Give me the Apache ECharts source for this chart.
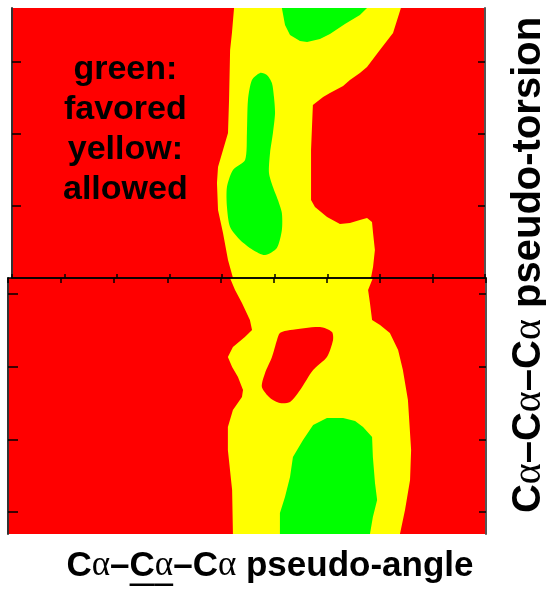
<!DOCTYPE html>
<html>
<head>
<meta charset="utf-8">
<script src="https://cdn.jsdelivr.net/npm/echarts@6/dist/echarts.min.js"></script>
<style>
  html, body { margin: 0; padding: 0; background: #fff; }
  #chart { width: 546px; height: 594px; }
</style>
</head>
<body>
<div id="chart"></div>
<script>
// region outlines, [pseudo-angle, pseudo-torsion] in degrees
// upper panel (torsion 0 .. 187)
var topAllowed = [
  [84.5,187],[83.7,169.7],[83.0,157.9],[82.6,123.3],[82.2,100.4],[80.3,88.7],[78.4,76.9],
  [78.0,65.8],[78.4,47.1],[80.3,31.2],[82.2,12.5],[84.1,0],
  [136.6,0],[137.4,7.6],[138.1,19.4],[137.4,31.2],[137.0,38.8],[135.1,41.6],[132.4,40.2],
  [128.6,38.1],[124.8,37.4],[119.9,42.2],[115.3,49.2],[113.8,54.0],[113.8,88.7],
  [114.5,119.8],[118.4,125.4],[121.0,128.1],[126.0,133.0],[128.6,137.1],[132.4,142.0],
  [135.1,146.1],[140.0,157.9],[145.0,169.7],[148.0,187]
];
var topFavoredA = [
  [102.7,187],[103.9,175.2],[105.8,168.3],[109.6,164.1],[112.3,163.5],[117.2,165.5],
  [121.0,169.0],[126.7,175.9],[132.4,182.2],[135.1,187]
];
var topFavoredB = [
  [94.4,142.0],[91.3,137.1],[89.8,123.3],[89.4,100.4],[88.7,81.7],[84.1,74.8],[81.8,63.0],
  [81.8,49.2],[83.0,35.3],[86.8,26.3],[91.7,19.4],[96.3,15.9],[100.8,20.8],[102.7,33.2],
  [102.7,45.0],[101.2,54.0],[99.3,63.0],[97.8,72.7],[98.2,86.6],[99.3,100.4],[100.1,114.3],
  [99.7,125.4],[98.9,135.1],[97.0,140.6]
];
// lower panel (torsion -165 .. 11)
var lowAllowed = [
  [83.6,11],[85.5,2.8],[88.1,-6.2],[91.1,-17.9],[91.9,-24.8],[89.2,-29.6],[84.7,-36.4],
  [82.8,-43.3],[84.4,-50.2],[86.6,-57.1],[88.5,-66.0],[88.1,-70.8],[84.7,-79.8],
  [82.8,-91.4],[82.8,-107.3],[84.4,-134.8],[84.7,-165],
  [147.6,-165],[149.5,-148.5],[151.4,-127.9],[151.8,-107.3],[150.6,-72.9],[148.7,-52.3],
  [146.9,-38.5],[143.8,-26.8],[140.1,-21.3],[137.1,-17.9],[136.3,-6.2],[135.6,2.8],[137.4,11]
];
var lowHole = [
  [102.4,-26.8],[106.2,-24.8],[117.5,-22.7],[122.0,-26.1],[122.4,-31.6],[120.1,-43.3],
  [114.9,-52.3],[110.0,-66.0],[106.2,-74.3],[102.4,-75.0],[98.7,-71.5],[95.6,-63.9],
  [96.8,-54.3],[99.4,-43.3],[101.3,-31.6]
];
var lowFavored = [
  [102.4,-165],[102.4,-150.6],[104.3,-139.6],[106.2,-125.8],[107.3,-112.1],[111.1,-100.4],
  [114.9,-90.1],[120.1,-85.3],[126.2,-85.3],[130.7,-87.3],[133.7,-91.4],[137.1,-98.3],
  [137.4,-112.1],[138.2,-129.9],[139.0,-141.6],[137.4,-153.3],[136.3,-165]
];
var topTicks = [50, 100, 150];
var lowTicks = [0, -50, -100, -150];

var RED = '#ff0000', YELLOW = '#ffff00', GREEN = '#00ff00';
var SANS = '"Liberation Sans", Arial, sans-serif';
var ALPHA = '"Liberation Serif", serif';

var chart = echarts.init(document.getElementById('chart'));

// closed blobs get rounded, shapes cut by the panel edge stay straight
function region(pts, color, gi, smooth) {
  return {
    type: 'custom',
    xAxisIndex: gi,
    yAxisIndex: gi * 2,
    clip: true,
    silent: true,
    data: [pts[0]],
    renderItem: function (params, api) {
      return {
        type: 'polygon',
        shape: { points: pts.map(function (p) { return api.coord(p); }), smooth: smooth || 0 },
        style: { fill: color }
      };
    }
  };
}

function xAx(gi, pos, tickLen) {
  return {
    type: 'value', gridIndex: gi, position: pos, min: 0, max: 180, interval: 20, z: 10,
    axisLine: { show: true, onZero: false, lineStyle: { color: '#000', width: 1.5 } },
    axisTick: { show: true, inside: true, length: tickLen, lineStyle: { color: '#000', width: 1.5 } },
    axisLabel: { show: false }, splitLine: { show: false }
  };
}
function yAx(gi, pos, min, max, ticks, tickLen, col) {
  return {
    type: 'value', gridIndex: gi, position: pos, min: min, max: max, z: 10,
    axisLine: { show: true, onZero: false, lineStyle: { color: col, width: 2 } },
    axisTick: { show: true, inside: true, length: tickLen, customValues: ticks,
      lineStyle: { color: '#000', width: 1.5 } },
    axisLabel: { show: false }, splitLine: { show: false }
  };
}

// measure text runs so the underline sits under the middle C-alpha
var mctx = document.createElement('canvas').getContext('2d');
function label(parts, size, cx, cy, rot) {
  var widths = parts.map(function (p) {
    mctx.font = (p[1] ? 'normal ' : 'bold ') + size + 'px ' + (p[1] ? ALPHA : SANS);
    return mctx.measureText(p[0]).width;
  });
  var total = widths.reduce(function (a, b) { return a + b; }, 0);
  var x = -total / 2, kids = [];
  parts.forEach(function (p, i) {
    kids.push({
      type: 'text', x: x, y: 0,
      style: {
        text: p[0], fill: '#000', fontSize: size,
        fontWeight: p[1] ? 'normal' : 'bold', fontFamily: p[1] ? ALPHA : SANS,
        textAlign: 'left', textVerticalAlign: 'middle'
      }
    });
    if (p[2]) {
      kids.push({ type: 'rect', shape: { x: x, y: size * 0.5, width: widths[i], height: 2.5 },
        style: { fill: '#000' } });
    }
    x += widths[i];
  });
  return { type: 'group', x: cx, y: cy, rotation: rot, children: kids };
}

var option = {
  animation: false,
  grid: [
    { left: 12, top: 8, width: 473, height: 270, show: true, backgroundColor: RED, borderWidth: 0 },
    { left: 8, top: 278, width: 478, height: 256, show: true, backgroundColor: RED, borderWidth: 0 }
  ],
  xAxis: [xAx(0, 'bottom', 4), xAx(1, 'top', 5)],
  yAxis: [
    yAx(0, 'left', 0, 187, topTicks, 9, '#333'),
    yAx(0, 'right', 0, 187, topTicks, 7, '#555'),
    yAx(1, 'left', -165, 11, lowTicks, 10, '#333'),
    yAx(1, 'right', -165, 11, lowTicks, 7, '#555')
  ],
  series: [
    region(topAllowed, YELLOW, 0),
    region(topFavoredA, GREEN, 0),
    region(topFavoredB, GREEN, 0, 0.25),
    region(lowAllowed, YELLOW, 1),
    region(lowHole, RED, 1, 0.25),
    region(lowFavored, GREEN, 1)
  ],
  graphic: [
    {
      type: 'text', left: 63, top: 50,
      style: {
        text: 'green:\nfavored\nyellow:\nallowed', fill: '#000',
        fontSize: 34, fontWeight: 'bold', fontFamily: SANS,
        lineHeight: 40, textAlign: 'center'
      }
    },
    label([['C'], ['α', 1], ['–'], ['C', 0, 1], ['α', 1, 1], ['–C'], ['α', 1], [' pseudo-angle']],
      35, 270, 566, 0),
    label([['C'], ['α', 1], ['–'], ['C', 0, 1], ['α', 1, 1], ['–C'], ['α', 1], [' pseudo-torsion']],
      40, 529, 265, Math.PI / 2)
  ]
};
chart.setOption(option);
</script>
</body>
</html>
